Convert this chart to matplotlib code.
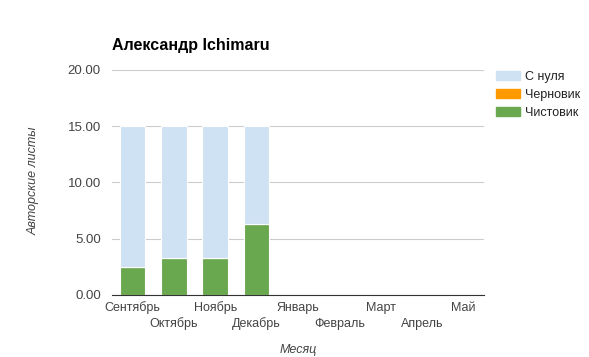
import matplotlib.pyplot as plt
import numpy as np
from matplotlib.patches import Patch

plt.rcParams['font.family'] = ['Liberation Sans', 'DejaVu Sans']

months = ['Сентябрь', 'Октябрь', 'Ноябрь', 'Декабрь', 'Январь',
          'Февраль', 'Март', 'Апрель', 'Май']
clean = [2.5, 3.3, 3.3, 6.3, 0, 0, 0, 0, 0]       # Чистовик
draft = [0, 0, 0, 0, 0, 0, 0, 0, 0]               # Черновик
scratch = [12.5, 11.7, 11.7, 8.7, 0, 0, 0, 0, 0]  # С нуля
yticks = [0, 5, 10, 15, 20]

fig = plt.figure(figsize=(5.89, 3.57), dpi=100)
ax = fig.add_axes([0.190, 0.174, 0.632, 0.630])

x = np.arange(len(months))
w = 0.62
ax.bar(x, clean, w, color='#6aa84f', edgecolor='white', linewidth=0.8, zorder=3)
ax.bar(x, draft, w, bottom=clean, color='#ff9900', edgecolor='white', linewidth=0.8, zorder=3)
bot = np.array(clean) + np.array(draft)
ax.bar(x, scratch, w, bottom=bot, color='#cfe2f3', edgecolor='white', linewidth=0.8, zorder=3)

ax.set_xlim(-0.5, len(months) - 0.5)
ax.set_ylim(0, 20)
ax.set_yticks(yticks)
ax.set_yticklabels(['%.2f' % v for v in yticks], color='#444444', fontsize=9.5)
ax.yaxis.grid(True, color='#cccccc', linewidth=0.8, zorder=0)
for s in ['top', 'right', 'left']:
    ax.spines[s].set_visible(False)
ax.spines['bottom'].set_color('#333333')
ax.spines['bottom'].set_zorder(4)
ax.tick_params(axis='both', length=0)
ax.tick_params(axis='y', pad=8)

ax.set_xticks(x)
ax.set_xticklabels([])
# staggered month labels, offsets in pixels converted to points
for i, m in enumerate(months):
    off = -13 if i % 2 == 0 else -29
    ax.annotate(m, (i, 0), xycoords=('data', 'axes fraction'),
                xytext=(0, off * 0.72), textcoords='offset points',
                ha='center', va='center', fontsize=9, color='#444444')

fig.text(0.506, 0.02, 'Месяц', ha='center', va='center', fontsize=9,
         style='italic', color='#444444')
fig.text(0.057, 0.493, 'Авторские листы', rotation=90, ha='center', va='center',
         fontsize=9, style='italic', color='#444444')
fig.text(0.190, 0.873, 'Александр Ichimaru', ha='left', va='center',
         fontsize=11.5, fontweight='bold', color='black')

handles = [Patch(color='#cfe2f3'), Patch(color='#ff9900'), Patch(color='#6aa84f')]
fig.legend(handles, ['С нуля', 'Черновик', 'Чистовик'], loc='upper left',
           bbox_to_anchor=(0.842, 0.801), frameon=False, fontsize=9,
           borderpad=0, borderaxespad=0,
           handlelength=1.92, handleheight=0.75, handletextpad=0.4,
           labelspacing=0.48, labelcolor='#222222')

fig.savefig('out.png', dpi=100)
